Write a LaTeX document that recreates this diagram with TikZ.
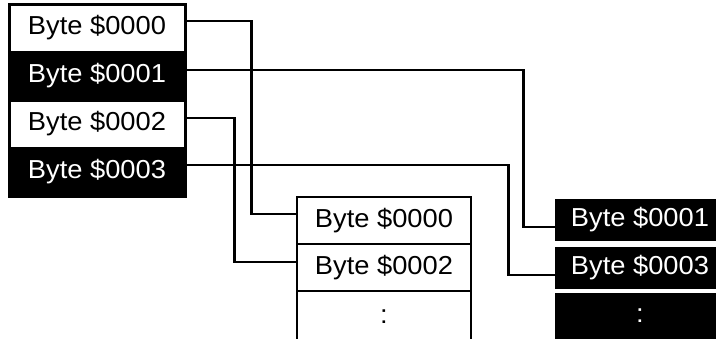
\documentclass[tikz,border=0pt]{standalone}
\usepackage{fontspec}
\usepackage{tikz}
\usetikzlibrary{positioning}
\newfontfamily\bytefont[FakeStretch=1.05]{Liberation Sans}

\begin{document}
\begin{tikzpicture}[
  x=0.5pt, y=-0.5pt,
  font=\bytefont\fontsize{13pt}{15pt}\selectfont,
  cell/.style={minimum width=88pt, minimum height=24pt, inner sep=0pt,
               align=center},
  lightcell/.style={cell, fill=white, draw=black, line width=1.5pt},
  darkcell/.style={cell, fill=black, draw=black, line width=1.5pt, text=white},
  memcell/.style={cell, minimum width=87pt, fill=white, draw=black,
                  line width=1pt},
  hicell/.style={cell, minimum width=85pt, minimum height=21pt,
                 fill=black, text=white},
  wire/.style={line width=1.1pt, black},
]
\useasboundingbox (0,0) rectangle (716,338);

% ── interleaved source bytes ────────────────────────────────────────────────
\node[lightcell] (src0) at (97,28)  {Byte \$0000};
\node[darkcell]  (src1) at (97,76)  {Byte \$0001};
\node[lightcell] (src2) at (97,124) {Byte \$0002};
\node[darkcell]  (src3) at (97,172) {Byte \$0003};

% ── even bytes ───────────────────────────────────────────────────────────────
\node[memcell] (even0) at (384,221) {Byte \$0000};
\node[memcell] (even1) at (384,268) {Byte \$0002};
\node[memcell, minimum height=26pt] (even2) at (384,317) {:};

% ── odd bytes ────────────────────────────────────────────────────────────────
\node[hicell] (odd0) at (640,220) {Byte \$0001};
\node[hicell] (odd1) at (640,268) {Byte \$0003};
\node[hicell, minimum height=23pt] (odd2) at (640,316) {:};

% wiring
\draw[wire] ([yshift=3.5pt]src0.east) -- ++(65,0) |- ([yshift=3.5pt]even0.west);
\draw[wire] ([yshift=3pt]src2.east) -- ++(48,0) |- ([yshift=3pt]even1.west);
\draw[wire] ([yshift=3pt]src1.east) -- ++(337,0) |- ([yshift=-3.5pt]odd0.west);
\draw[wire] ([yshift=3.5pt]src3.east) -- ++(322,0) |- ([yshift=-3.5pt]odd1.west);
\end{tikzpicture}
\end{document}
